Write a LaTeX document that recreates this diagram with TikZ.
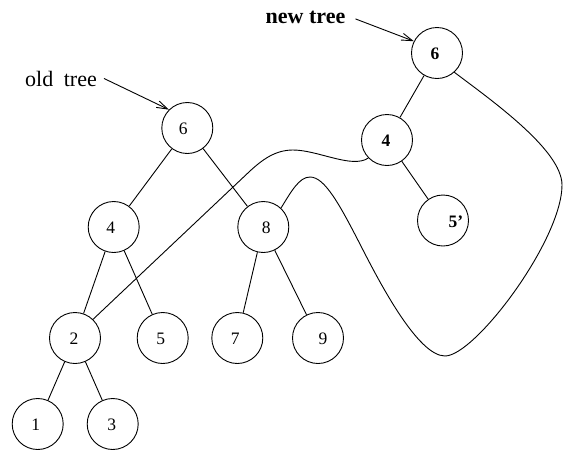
\documentclass[tikz,border=0pt]{standalone}
\usepackage{fontspec}
\setmainfont{Liberation Serif}
\usetikzlibrary{arrows.meta}
\begin{document}
\begin{tikzpicture}[x=1pt,y=-1pt,
  cnode/.style={circle,draw,line width=0.9pt,minimum size=51pt,inner sep=0pt},
  num/.style={inner sep=0pt,yshift=-1pt,font=\fontsize{17.5}{20}\selectfont},
  bnum/.style={num,font=\fontsize{17.5}{20}\selectfont\bfseries},
  edge/.style={line width=0.9pt},
  arr/.style={line width=0.9pt,-{Straight Barb[length=11pt,width=7pt]}},
  lbl/.style={inner sep=0pt,font=\fontsize{22}{26}\selectfont},
  blbl/.style={inner sep=0pt,font=\fontsize{22}{26}\selectfont\bfseries}]
\useasboundingbox (0,0) rectangle (566,451);
% old tree
\node[cnode,label={[num,xshift=-4pt]center:6}] (o6) at (187.3,128) {};
\node[cnode,label={[num,xshift=-3pt]center:4}] (o4) at (113.7,227) {};
\node[cnode,label={[num,xshift=3pt]center:8}] (o8) at (263.3,227) {};
\node[cnode,label={[num,xshift=-1pt]center:2}] (n2) at (75,338) {};
\node[cnode,label={[num,xshift=-2pt]center:5}] (n5) at (162.7,338) {};
\node[cnode,label={[num,xshift=-2pt]center:7}] (n7) at (237.3,338) {};
\node[cnode,label={[num,xshift=5pt]center:9}] (n9) at (318,338) {};
\node[cnode,label={[num,xshift=-2pt]center:1}] (n1) at (37.7,424) {};
\node[cnode,label={[num,xshift=-1pt]center:3}] (n3) at (112.7,424) {};
% new tree
\node[cnode,label={[bnum,xshift=-2pt]center:6}] (w6) at (437,53) {};
\node[cnode,label={[bnum,xshift=-1pt]center:4}] (w4) at (387,140) {};
\node[cnode,label={[bnum,xshift=13pt]center:5’}] (w5) at (443,220.5) {};
% edges
\draw[edge] (o6) -- (o4);
\draw[edge] (o6) -- (o8);
\draw[edge] (o4) -- (n2);
\draw[edge] (o4) -- (n5);
\draw[edge] (o8) -- (n7);
\draw[edge] (o8) -- (n9);
\draw[edge] (n2) -- (n1);
\draw[edge] (n2) -- (n3);
\draw[edge] (w6) -- (w4);
\draw[edge] (w4) -- (w5);
% shared pointers
\draw[edge] (w4.224) .. controls (352,169) and (318,150) .. (293,150)
  .. controls (275,150) and (262,160) .. (250,171) -- (n2.46);
\draw[edge] (o8.47) .. controls (291,192) and (299,177) .. (310,177)
  .. controls (325,177) and (340,205) .. (363,250)
  .. controls (380,283) and (418,356) .. (445,356)
  .. controls (475,356) and (562,240) .. (562,185)
  .. controls (562,150) and (491,100) .. (w6.312);
% labels
\node[lbl,anchor=base west] (oldlbl) at (25,86) {old\hspace{10.5pt}tree};
\node[blbl,anchor=base east] (newlbl) at (345.5,23) {new tree};
\draw[arr] ([xshift=7pt]oldlbl.east) -- (o6.135);
\draw[arr] ([xshift=10pt,yshift=-2pt]newlbl.east) -- (w6.153);
\end{tikzpicture}
\end{document}
